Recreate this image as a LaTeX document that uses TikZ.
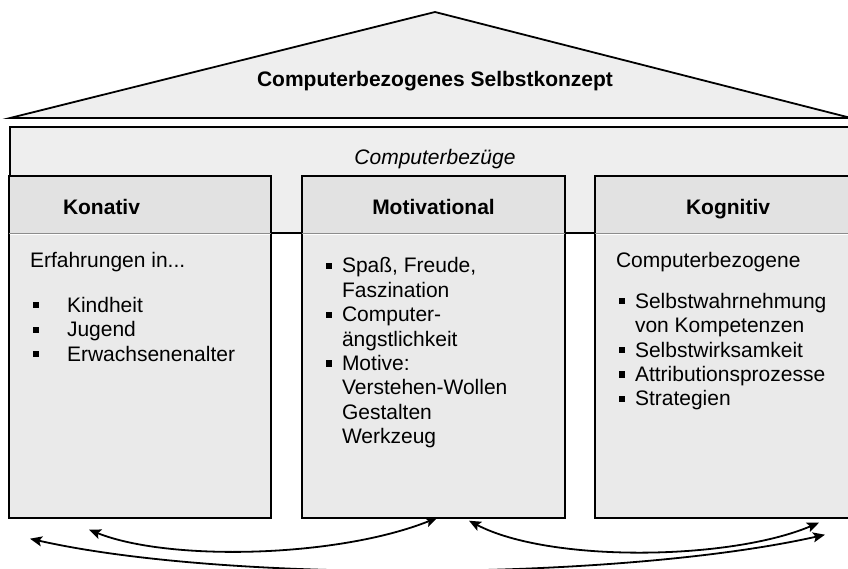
\documentclass[tikz,border=0pt]{standalone}
\usepackage{fontspec}
\setmainfont{Liberation Sans}
\usepackage{tikz}
\usetikzlibrary{%
  positioning
 ,arrows.meta
}
\definecolor{dachgrau}{HTML}{EEEEEE}
\definecolor{bandgrau}{HTML}{EEEEEE}
\definecolor{kopfgrau}{HTML}{E2E2E2}
\definecolor{feldgrau}{HTML}{EAEAEA}
\newcommand{\schrift}{\fontsize{21}{24.4}\selectfont}
\newcommand{\qpunkt}{\rule[4pt]{6pt}{6pt}}
\tikzstyle{haus}=[x=1pt,y=-1pt,line width=1.8pt]
\tikzstyle{kopf}=[rectangle,fill=kopfgrau,inner sep=0pt,minimum height=56pt,text height=20pt,text depth=0pt,font=\schrift\bfseries]
\tikzstyle{feld}=[rectangle,fill=feldgrau,inner sep=0pt,minimum height=282pt]
\tikzstyle{inhalt}=[anchor=base west,inner sep=0pt,font=\schrift]
\tikzstyle{trenn}=[draw=black!45,line width=1pt]
\tikzstyle{pfeil}=[{Stealth[length=12pt,width=10pt,inset=2.5pt]}-{Stealth[length=12pt,width=10pt,inset=2.5pt]},line width=1.8pt]

\begin{document}
\begin{tikzpicture}[haus]
  \useasboundingbox (0,0) rectangle (848,569);
  % Dach
  \coordinate (dachL) at (10,118);
  \coordinate (dachS) at (435,12);
  \coordinate (dachR) at (851,118);
  \draw[fill=dachgrau,line join=miter] (dachL) -- (dachS) -- (dachR) -- cycle;
  \node[font=\schrift\bfseries,anchor=base] (titel) at (435,87) {Computerbezogenes Selbstkonzept};
  % Band
  \node[draw,fill=bandgrau,minimum width=848pt,minimum height=106pt,inner sep=0pt] (band) at (434,180) {};
  \node[font=\schrift\itshape,anchor=base] (bezug) at (435,165) {Computerbezüge};
  % Saeulen
  \node[kopf,minimum width=260pt,text width=260pt,align=left] (konKopf) at (140,205) {\hspace*{53pt}Konativ};
  \node[kopf,minimum width=261pt] (motKopf) at (433.5,205) {Motivational};
  \node[kopf,minimum width=264pt] (kogKopf) at (728,205) {Kognitiv};
  \node[feld,minimum width=260pt,below=0pt of konKopf] (konFeld) {};
  \node[feld,minimum width=261pt,below=0pt of motKopf] (motFeld) {};
  \node[feld,minimum width=264pt,below=0pt of kogKopf] (kogFeld) {};
  \foreach \s in {kon,mot,kog} {
    \draw (\s Kopf.north west) rectangle (\s Feld.south east);
    \draw[trenn] (\s Kopf.south west) -- (\s Kopf.south east);
  }
  %
  \node[inhalt] (konText) at ([shift={(20,34)}]konFeld.north west) {%
    \begin{tabular}[t]{@{\hspace{3pt}}l@{\hspace{28pt}}l@{}}
      \multicolumn{2}{@{}l@{}}{Erfahrungen in...}\\[20pt]
      \qpunkt & Kindheit\\
      \qpunkt & Jugend\\
      \qpunkt & Erwachsenenalter
    \end{tabular}};
  \node[inhalt] (motText) at ([shift={(23,39)}]motFeld.north west) {%
    \begin{tabular}[t]{@{}l@{\hspace{10pt}}l@{}}
      \qpunkt & Spaß, Freude,\\
              & Faszination\\
      \qpunkt & Computer-\\
              & ängstlichkeit\\
      \qpunkt & Motive:\\
              & Verstehen-Wollen\\
              & Gestalten\\
              & Werkzeug
    \end{tabular}};
  \node[inhalt] (kogText) at ([shift={(20,34)}]kogFeld.north west) {%
    \begin{tabular}[t]{@{\hspace{3pt}}l@{\hspace{10pt}}l@{}}
      \multicolumn{2}{@{}l@{}}{Computerbezogene}\\[16pt]
      \qpunkt & Selbstwahrnehmung\\
              & von Kompetenzen\\
      \qpunkt & Selbstwirksamkeit\\
      \qpunkt & Attributionsprozesse\\
      \qpunkt & Strategien
    \end{tabular}};
  % Wechselwirkungen
  \draw[pfeil] ([shift={(-51,12)}]konFeld.south) .. controls +(80,32) and +(-100,40) .. ([shift={(4,0)}]motFeld.south);
  \draw[pfeil] ([shift={(35.5,3)}]motFeld.south) .. controls +(80,42) and +(-90,38) .. ([shift={(91,5)}]kogFeld.south);
  \draw[pfeil] ([shift={(-110,21)}]konFeld.south) .. controls +(200,45) and +(-200,45) .. ([shift={(97,17)}]kogFeld.south);
\end{tikzpicture}
\end{document}
